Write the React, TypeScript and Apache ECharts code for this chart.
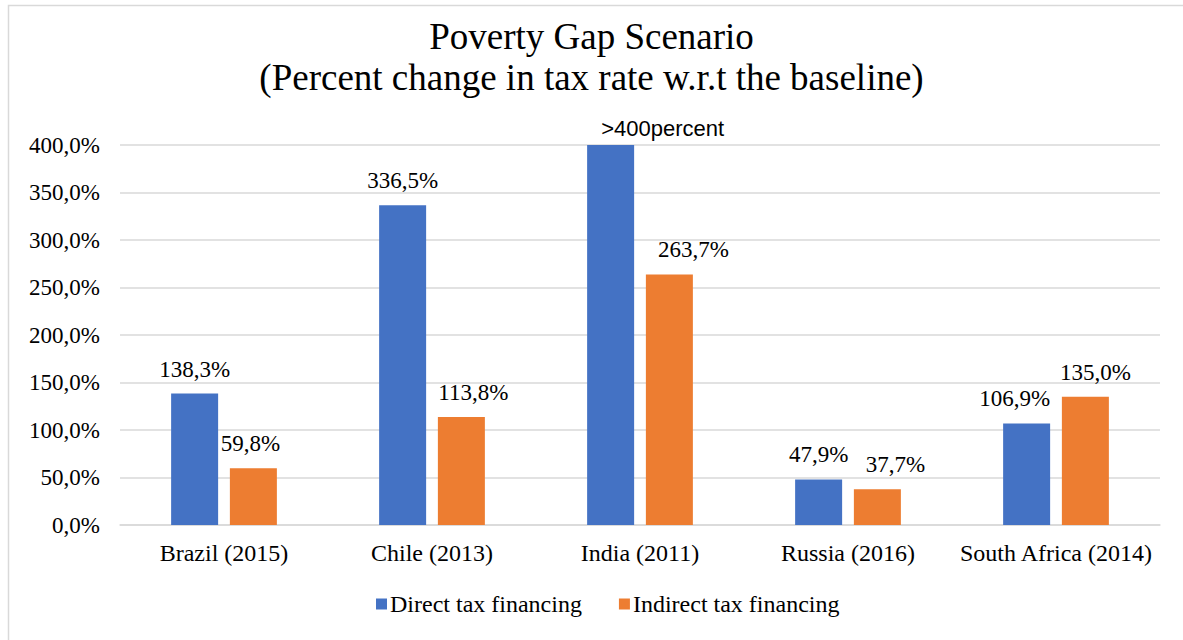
import React, { useEffect, useRef } from "react";
import * as echarts from "echarts";

const categories = ["Brazil (2015)", "Chile (2013)", "India (2011)", "Russia (2016)", "South Africa (2014)"];
const directValues = [138.3, 336.5, 400, 47.9, 106.9];
const indirectValues = [59.8, 113.8, 263.7, 37.7, 135.0];
const directLabels = ["138,3%", "336,5%", ">400percent", "47,9%", "106,9%"];
const indirectLabels = ["59,8%", "113,8%", "263,7%", "37,7%", "135,0%"];
const seriesNames = ["Direct tax financing", "Indirect tax financing"];
const titleText = "Poverty Gap Scenario\n(Percent change in tax rate w.r.t the baseline)";

// horizontal nudges of the data labels, as placed by hand in the original chart
const directLabelShift = [0, 0, 52, 0, -12];
const indirectLabelShift = [-3, 12, 24, 18, 10];

const SERIF = "Liberation Serif";
const SANS = "Liberation Sans";

export default function App() {
  const ref = useRef<HTMLDivElement>(null);
  useEffect(() => {
    if (!ref.current) return;
    const chart = echarts.init(ref.current, null, { renderer: "svg" });
    const fmt = (v: number) => v.toFixed(1).replace(".", ",") + "%";
    const labelRich = {
      s: { fontFamily: SERIF, fontSize: 23, color: "#000" },
      n: { fontFamily: SANS, fontSize: 22, color: "#000" },
    };
    chart.setOption({
      animation: false,
      backgroundColor: "#ffffff",
      textStyle: { fontFamily: SERIF, color: "#000" },
      title: {
        text: titleText,
        left: "center",
        top: 11,
        textStyle: { fontFamily: SERIF, fontSize: 37, fontWeight: "normal", color: "#000", lineHeight: 41 },
      },
      graphic: [
        {
          type: "rect",
          shape: { x: 8.5, y: 5.5, width: 1300, height: 800 },
          style: { fill: "none", stroke: "#d9d9d9", lineWidth: 1.5 },
          silent: true,
        },
      ],
      legend: {
        data: seriesNames,
        left: 371,
        top: 587,
        itemWidth: 11,
        itemHeight: 11,
        itemGap: 37,
        icon: "rect",
        textStyle: { fontFamily: SERIF, fontSize: 24, color: "#000", padding: [0, 0, 0, -2] },
      },
      grid: { left: 120, right: 23, top: 145, bottom: 115, containLabel: false },
      xAxis: {
        type: "category",
        data: categories,
        axisLine: { lineStyle: { color: "#d9d9d9", width: 1.5 } },
        axisTick: { show: false },
        axisLabel: { fontFamily: SERIF, fontSize: 24, color: "#000", margin: 16, interval: 0 },
      },
      yAxis: {
        type: "value",
        min: 0,
        max: 400,
        interval: 50,
        axisLine: { show: false },
        axisTick: { show: false },
        splitLine: { lineStyle: { color: "#d9d9d9", width: 1.5 } },
        axisLabel: { fontFamily: SERIF, fontSize: 23, color: "#000", margin: 20, formatter: (v: number) => fmt(v) },
      },
      series: [
        {
          name: seriesNames[0],
          type: "bar",
          data: directValues.map((v, i) => ({
            value: v,
            label: i === 2 ? { distance: 6, offset: [directLabelShift[i], 0] } : { offset: [directLabelShift[i], 0] },
          })),
          barWidth: 47,
          barGap: "25%",
          itemStyle: { color: "#4472C4" },
          label: {
            show: true,
            position: "top",
            distance: 13,
            fontFamily: SERIF,
            fontSize: 23,
            color: "#000",
            rich: labelRich,
            formatter: (p: any) =>
              p.dataIndex === 2 ? "{n|" + directLabels[p.dataIndex] + "}" : "{s|" + directLabels[p.dataIndex] + "}",
          },
        },
        {
          name: seriesNames[1],
          type: "bar",
          data: indirectValues.map((v, i) => ({ value: v, label: { offset: [indirectLabelShift[i], 0] } })),
          barWidth: 47,
          barGap: "25%",
          itemStyle: { color: "#ED7D31" },
          label: {
            show: true,
            position: "top",
            distance: 13,
            fontFamily: SERIF,
            fontSize: 23,
            color: "#000",
            rich: labelRich,
            formatter: (p: any) => "{s|" + indirectLabels[p.dataIndex] + "}",
          },
        },
      ],
    });
    return () => chart.dispose();
  }, []);
  return <div ref={ref} style={{ position: "fixed", left: 0, top: 0, width: 1183, height: 640 }} />;
}
